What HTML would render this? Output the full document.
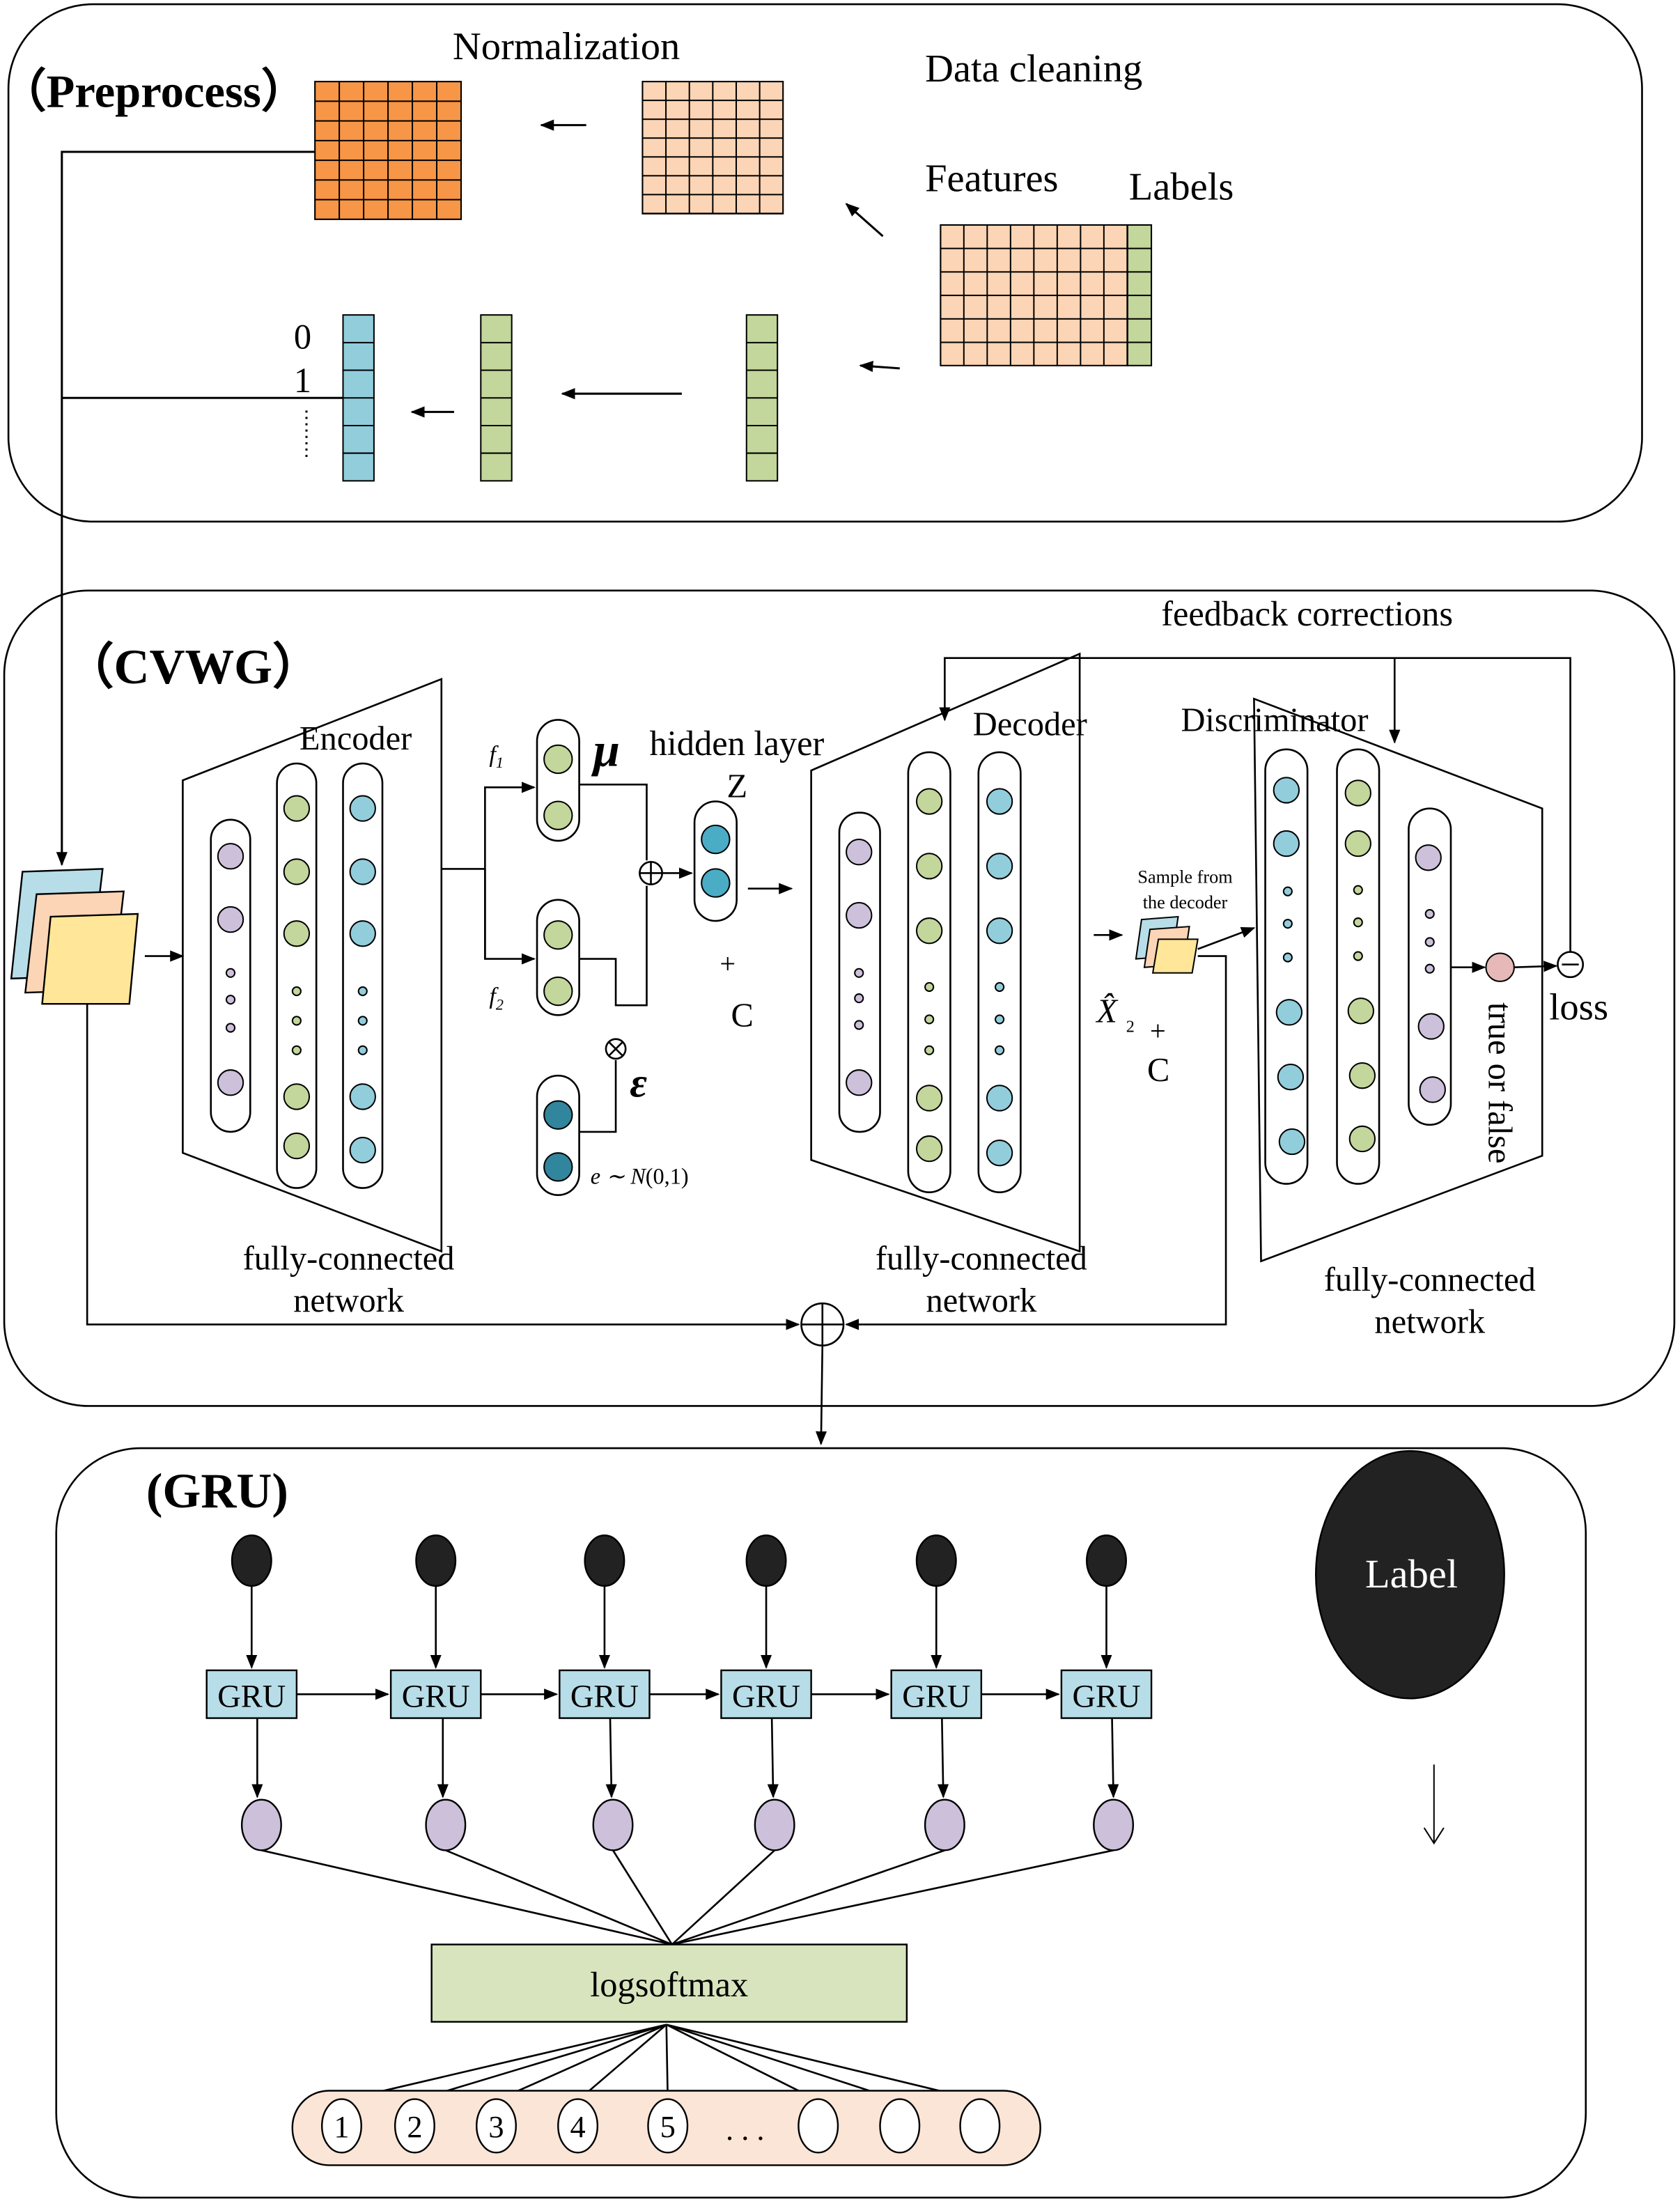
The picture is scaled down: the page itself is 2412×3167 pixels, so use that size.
<!DOCTYPE html>
<html><head><meta charset="utf-8"><style>
html,body{margin:0;padding:0;background:#fff}
svg{display:block}
text{font-family:"Liberation Serif",serif;fill:#000}
</style></head><body>
<svg width="2412" height="3167" viewBox="0 0 1195 1569" preserveAspectRatio="none" xmlns="http://www.w3.org/2000/svg">
<defs>
<marker id="a" markerWidth="10" markerHeight="10" refX="9" refY="5" orient="auto" markerUnits="userSpaceOnUse"><path d="M0,1 L10,5 L0,9 Z" fill="#000"/></marker>
<pattern id="pO" x="224" y="58" width="17.33" height="14" patternUnits="userSpaceOnUse"><rect width="17.33" height="14" fill="#f79646" stroke="#000" stroke-width="1"/></pattern>
<pattern id="pP" x="457" y="58" width="16.67" height="13.4" patternUnits="userSpaceOnUse"><rect width="16.67" height="13.4" fill="#fbd5b5" stroke="#000" stroke-width="1"/></pattern>
<pattern id="pF" x="669" y="160" width="16.6" height="16.7" patternUnits="userSpaceOnUse"><rect width="16.6" height="16.7" fill="#fbd5b5" stroke="#000" stroke-width="1"/></pattern>
<pattern id="pL" x="802" y="160" width="17" height="16.7" patternUnits="userSpaceOnUse"><rect width="17" height="16.7" fill="#c3d69b" stroke="#000" stroke-width="1"/></pattern>
</defs>
<g fill="none" stroke="#000" stroke-width="1.3">
<rect x="6" y="3" width="1162" height="368" rx="60"/>
<rect x="3" y="420" width="1188" height="580" rx="60"/>
<rect x="40" y="1030" width="1088" height="533" rx="60"/>
</g>
<!-- Preprocess -->
<rect x="224" y="58" width="104" height="98" fill="url(#pO)" stroke="#000"/>
<rect x="457" y="58" width="100" height="94" fill="url(#pP)" stroke="#000"/>
<rect x="669" y="160" width="133" height="100" fill="url(#pF)" stroke="#000"/>
<rect x="802" y="160" width="17" height="100" fill="url(#pL)" stroke="#000"/>
<g stroke="#000" stroke-width="1">
<rect x="531" y="224" width="22" height="118" fill="#c3d69b"/>
<path d="M531,243.7H553M531,263.3H553M531,283H553M531,302.7H553M531,322.3H553"/>
<rect x="342" y="224" width="22" height="118" fill="#c3d69b"/>
<path d="M342,243.7H364M342,263.3H364M342,283H364M342,302.7H364M342,322.3H364"/>
<rect x="244" y="224" width="22" height="118" fill="#92cddc"/>
<path d="M244,243.7H266M244,263.3H266M244,283H266M244,302.7H266M244,322.3H266"/>
</g>
<g stroke="#000" stroke-width="1.5" fill="none">
<line x1="417" y1="89" x2="385" y2="89" marker-end="url(#a)"/>
<line x1="628" y1="168" x2="602" y2="145" marker-end="url(#a)"/>
<line x1="640" y1="262" x2="612" y2="260" marker-end="url(#a)"/>
<line x1="485" y1="280" x2="400" y2="280" marker-end="url(#a)"/>
<line x1="323" y1="293" x2="293" y2="293" marker-end="url(#a)"/>
<polyline points="224,108 44,108 44,615" marker-end="url(#a)"/>
<line x1="244" y1="283" x2="44" y2="283"/>
<line x1="218" y1="292" x2="218" y2="326" stroke-dasharray="1.5,3"/>
</g>
<text x="322" y="42" font-size="28">Normalization</text>
<text x="0" y="76" font-size="33" font-weight="bold">（Preprocess）</text>
<text x="658" y="58" font-size="28">Data cleaning</text>
<text x="658" y="136" font-size="28">Features</text>
<text x="803" y="142" font-size="28">Labels</text>
<text x="209" y="248" font-size="25">0</text>
<text x="209" y="279" font-size="25">1</text>
<!-- CVWG -->
<text x="46" y="486" font-size="35" font-weight="bold">（CVWG）</text>
<g stroke="#000" stroke-width="1.2">
<polygon points="16,620 73,618 64,694 8,696" fill="#b7dde8"/>
<polygon points="26,636 88,634 80,704 18,706" fill="#fbd5b5"/>
<polygon points="36,652 98,650 92,714 30,714" fill="#ffe699"/>
</g>
<g stroke="#000" stroke-width="1.3" fill="none">
<line x1="103" y1="680" x2="130" y2="680" marker-end="url(#a)"/>
<polygon points="130,555 314,483 314,890 130,820"/>
<rect x="150" y="583" width="28" height="222" rx="14"/>
<rect x="197" y="543" width="28" height="302" rx="14"/>
<rect x="244" y="543" width="28" height="302" rx="14"/>
<polygon points="577,548 768,465 768,890 577,825"/>
<rect x="597" y="578" width="29" height="227" rx="14"/>
<rect x="646" y="535" width="30" height="313" rx="15"/>
<rect x="696" y="535" width="30" height="313" rx="15"/>
<polygon points="892,497 1097,575 1097,822 897,897"/>
<rect x="900" y="533" width="30" height="309" rx="15"/>
<rect x="951" y="533" width="30" height="309" rx="15"/>
<rect x="1002" y="575" width="30" height="225" rx="15"/>
<rect x="382" y="512" width="30" height="86" rx="15"/>
<rect x="382" y="640" width="30" height="82" rx="15"/>
<rect x="382" y="765" width="30" height="85" rx="15"/>
<rect x="494" y="570" width="30" height="85" rx="15"/>
<polyline points="314,618 345,618"/>
<polyline points="345,682 345,560 380,560" marker-end="url(#a)"/>
<polyline points="345,618 345,682 380,682" marker-end="url(#a)"/>
<polyline points="412,558 460,558 460,612"/>
<polyline points="412,682 438,682 438,715 460,715 460,630"/>
<polyline points="412,805 438,805 438,754"/>
<line x1="470" y1="621" x2="492" y2="621" marker-end="url(#a)"/>
<line x1="532" y1="632" x2="563" y2="632" marker-end="url(#a)"/>
<line x1="778" y1="665" x2="798" y2="665" marker-end="url(#a)"/>
<polyline points="852,675 892,660" marker-end="url(#a)"/>
<line x1="1032" y1="688" x2="1056" y2="688" marker-end="url(#a)"/>
<line x1="1077" y1="688" x2="1107" y2="687" marker-end="url(#a)"/>
<polyline points="1117,677 1117,468 672,468 672,512" marker-end="url(#a)"/>
<polyline points="992,468 992,528" marker-end="url(#a)"/>
<polyline points="62,714 62,942 568,942" marker-end="url(#a)"/>
<polyline points="852,680 872,680 872,942 602,942" marker-end="url(#a)"/>
<line x1="585" y1="957" x2="584" y2="1027" marker-end="url(#a)"/>
<circle cx="463" cy="621" r="8" fill="#fff"/><path d="M455,621H471M463,613V629"/>
<circle cx="438" cy="746" r="7" fill="#fff"/><path d="M433,741L443,751M443,741L433,751"/>
<circle cx="585" cy="942" r="15" fill="#fff"/><path d="M570,942H600M585,927V957"/>
<circle cx="1117" cy="686" r="9" fill="#fff"/><path d="M1111,686H1123"/>
</g>
<g stroke="#000" stroke-width="1">
<circle cx="1067" cy="688" r="10" fill="#e6b9b8"/>
<g fill="#ccc0da"><circle cx="164" cy="609" r="9"/><circle cx="164" cy="654" r="9"/><circle cx="164" cy="770" r="9"/><circle cx="164" cy="692" r="3"/><circle cx="164" cy="711" r="3"/><circle cx="164" cy="731" r="3"/>
<circle cx="611" cy="606" r="9"/><circle cx="611" cy="651" r="9"/><circle cx="611" cy="770" r="9"/><circle cx="611" cy="692" r="3"/><circle cx="611" cy="710" r="3"/><circle cx="611" cy="729" r="3"/>
<circle cx="1016" cy="610" r="9"/><circle cx="1018" cy="730" r="9"/><circle cx="1019" cy="775" r="9"/><circle cx="1017" cy="650" r="3"/><circle cx="1017" cy="670" r="3"/><circle cx="1017" cy="689" r="3"/></g>
<g fill="#c3d69b"><circle cx="211" cy="575" r="9"/><circle cx="211" cy="620" r="9"/><circle cx="211" cy="664" r="9"/><circle cx="211" cy="780" r="9"/><circle cx="211" cy="815" r="9"/><circle cx="211" cy="705" r="3"/><circle cx="211" cy="726" r="3"/><circle cx="211" cy="747" r="3"/>
<circle cx="661" cy="570" r="9"/><circle cx="661" cy="616" r="9"/><circle cx="661" cy="662" r="9"/><circle cx="661" cy="781" r="9"/><circle cx="661" cy="817" r="9"/><circle cx="661" cy="702" r="3"/><circle cx="661" cy="725" r="3"/><circle cx="661" cy="747" r="3"/>
<circle cx="966" cy="564" r="9"/><circle cx="966" cy="600" r="9"/><circle cx="968" cy="719" r="9"/><circle cx="969" cy="765" r="9"/><circle cx="969" cy="810" r="9"/><circle cx="966" cy="633" r="3"/><circle cx="966" cy="656" r="3"/><circle cx="966" cy="680" r="3"/>
<circle cx="397" cy="540" r="10"/><circle cx="397" cy="580" r="10"/><circle cx="397" cy="665" r="10"/><circle cx="397" cy="705" r="10"/></g>
<g fill="#92cddc"><circle cx="258" cy="575" r="9"/><circle cx="258" cy="620" r="9"/><circle cx="258" cy="664" r="9"/><circle cx="258" cy="780" r="9"/><circle cx="258" cy="818" r="9"/><circle cx="258" cy="705" r="3"/><circle cx="258" cy="726" r="3"/><circle cx="258" cy="747" r="3"/>
<circle cx="711" cy="570" r="9"/><circle cx="711" cy="616" r="9"/><circle cx="711" cy="662" r="9"/><circle cx="711" cy="781" r="9"/><circle cx="711" cy="820" r="9"/><circle cx="711" cy="702" r="3"/><circle cx="711" cy="725" r="3"/><circle cx="711" cy="747" r="3"/>
<circle cx="915" cy="562" r="9"/><circle cx="915" cy="600" r="9"/><circle cx="917" cy="720" r="9"/><circle cx="918" cy="766" r="9"/><circle cx="919" cy="812" r="9"/><circle cx="916" cy="634" r="3"/><circle cx="916" cy="657" r="3"/><circle cx="916" cy="681" r="3"/></g>
<circle cx="509" cy="597" r="10" fill="#4bacc6"/><circle cx="509" cy="628" r="10" fill="#4bacc6"/>
<circle cx="397" cy="793" r="10" fill="#31859c"/><circle cx="397" cy="830" r="10" fill="#31859c"/>
<polygon points="812,654 838,652 834,680 808,682" fill="#b7dde8"/>
<polygon points="818,661 846,659 842,686 814,688" fill="#fbd5b5"/>
<polygon points="824,668 852,668 848,692 820,692" fill="#ffe699"/>
</g>
<text x="213" y="533" font-size="24">Encoder</text>
<text x="248" y="903" font-size="24" text-anchor="middle">fully-connected</text>
<text x="248" y="933" font-size="24" text-anchor="middle">network</text>
<text x="698" y="903" font-size="24" text-anchor="middle">fully-connected</text>
<text x="698" y="933" font-size="24" text-anchor="middle">network</text>
<text x="1017" y="918" font-size="24" text-anchor="middle">fully-connected</text>
<text x="1017" y="948" font-size="24" text-anchor="middle">network</text>
<text x="692" y="523" font-size="24">Decoder</text>
<text x="840" y="520" font-size="24">Discriminator</text>
<text x="826" y="445" font-size="25">feedback corrections</text>
<text x="348" y="542" font-size="17" font-style="italic">f<tspan font-size="11" dy="4">1</tspan></text>
<text x="348" y="714" font-size="17" font-style="italic">f<tspan font-size="11" dy="4">2</tspan></text>
<text x="422" y="545" font-size="34" font-weight="bold" font-style="italic">μ</text>
<text x="448" y="780" font-size="30" font-weight="bold" font-style="italic">ε</text>
<text x="420" y="842" font-size="16" font-style="italic">e ∼ N<tspan font-style="normal">(0,1)</tspan></text>
<text x="462" y="537" font-size="25">hidden layer</text>
<text x="517" y="567" font-size="24">Z</text>
<text x="512" y="692" font-size="20">+</text>
<text x="520" y="730" font-size="24">C</text>
<text x="843" y="628" font-size="13" text-anchor="middle">Sample from</text>
<text x="843" y="646" font-size="13" text-anchor="middle">the decoder</text>
<text x="780" y="727" font-size="24" font-style="italic">X̂</text><text x="801" y="734" font-size="12">2</text>
<text x="818" y="740" font-size="20">+</text>
<text x="816" y="769" font-size="24">C</text>
<text x="1102" y="725" font-size="27">loss</text>
<text transform="translate(1059,713) rotate(90)" font-size="24">true or false</text>
<!-- GRU -->
<text x="104" y="1072" font-size="35" font-weight="bold">(GRU)</text>
<g stroke="#000" stroke-width="1.3" fill="none">
<line x1="179" y1="1128" x2="179" y2="1186" marker-end="url(#a)"/><line x1="310" y1="1128" x2="310" y2="1186" marker-end="url(#a)"/><line x1="430" y1="1128" x2="430" y2="1186" marker-end="url(#a)"/><line x1="545" y1="1128" x2="545" y2="1186" marker-end="url(#a)"/><line x1="666" y1="1128" x2="666" y2="1186" marker-end="url(#a)"/><line x1="787" y1="1128" x2="787" y2="1186" marker-end="url(#a)"/>
<line x1="211" y1="1205" x2="276" y2="1205" marker-end="url(#a)"/><line x1="342" y1="1205" x2="396" y2="1205" marker-end="url(#a)"/><line x1="462" y1="1205" x2="511" y2="1205" marker-end="url(#a)"/><line x1="577" y1="1205" x2="632" y2="1205" marker-end="url(#a)"/><line x1="698" y1="1205" x2="753" y2="1205" marker-end="url(#a)"/>
<line x1="183" y1="1222" x2="183" y2="1278" marker-end="url(#a)"/><line x1="315" y1="1222" x2="315" y2="1278" marker-end="url(#a)"/><line x1="434" y1="1222" x2="435" y2="1278" marker-end="url(#a)"/><line x1="549" y1="1222" x2="550" y2="1278" marker-end="url(#a)"/><line x1="670" y1="1222" x2="671" y2="1278" marker-end="url(#a)"/><line x1="791" y1="1222" x2="792" y2="1278" marker-end="url(#a)"/>
<path d="M186,1316L478,1383M317,1316L478,1383M436,1316L478,1383M551,1316L478,1383M672,1316L478,1383M792,1316L478,1383"/>
<path d="M474,1440L243,1494M474,1440L295,1494M474,1440L353,1494M474,1440L411,1494M474,1440L475,1494M474,1440L582,1494M474,1440L640,1494M474,1440L697,1494"/>
<line x1="1020" y1="1255" x2="1020" y2="1310" stroke-width="1"/><path d="M1013,1300L1020,1311L1027,1300" stroke-width="1"/>
</g>
<g stroke="#000" stroke-width="1.2">
<g fill="#222"><ellipse cx="179" cy="1110" rx="14" ry="18"/><ellipse cx="310" cy="1110" rx="14" ry="18"/><ellipse cx="430" cy="1110" rx="14" ry="18"/><ellipse cx="545" cy="1110" rx="14" ry="18"/><ellipse cx="666" cy="1110" rx="14" ry="18"/><ellipse cx="787" cy="1110" rx="14" ry="18"/></g>
<g fill="#b7dde8"><rect x="147" y="1188" width="64" height="34"/><rect x="278" y="1188" width="64" height="34"/><rect x="398" y="1188" width="64" height="34"/><rect x="513" y="1188" width="64" height="34"/><rect x="634" y="1188" width="64" height="34"/><rect x="755" y="1188" width="64" height="34"/></g>
<g fill="#ccc0da"><ellipse cx="186" cy="1298" rx="14" ry="18"/><ellipse cx="317" cy="1298" rx="14" ry="18"/><ellipse cx="436" cy="1298" rx="14" ry="18"/><ellipse cx="551" cy="1298" rx="14" ry="18"/><ellipse cx="672" cy="1298" rx="14" ry="18"/><ellipse cx="792" cy="1298" rx="14" ry="18"/></g>
<rect x="307" y="1383" width="338" height="55" fill="#d7e4bd"/>
<rect x="208" y="1487" width="532" height="53" rx="26" fill="#fbe5d6"/>
<g fill="#fff"><ellipse cx="243" cy="1512" rx="14" ry="19"/><ellipse cx="295" cy="1512" rx="14" ry="19"/><ellipse cx="353" cy="1512" rx="14" ry="19"/><ellipse cx="411" cy="1512" rx="14" ry="19"/><ellipse cx="475" cy="1512" rx="14" ry="19"/><ellipse cx="582" cy="1512" rx="14" ry="19"/><ellipse cx="640" cy="1512" rx="14" ry="19"/><ellipse cx="697" cy="1512" rx="14" ry="19"/></g>
<ellipse cx="1003" cy="1120" rx="67" ry="88" fill="#222"/>
</g>
<g font-size="23" text-anchor="middle" font-family="Liberation Sans Narrow, Liberation Sans, sans-serif">
<text x="179" y="1214">GRU</text><text x="310" y="1214">GRU</text><text x="430" y="1214">GRU</text><text x="545" y="1214">GRU</text><text x="666" y="1214">GRU</text><text x="787" y="1214">GRU</text>
</g>
<text x="476" y="1420" font-size="25" text-anchor="middle">logsoftmax</text>
<g font-size="22" text-anchor="middle"><text x="243" y="1520">1</text><text x="295" y="1520">2</text><text x="353" y="1520">3</text><text x="411" y="1520">4</text><text x="475" y="1520">5</text><text x="530" y="1522">. . .</text></g>
<text x="1004" y="1129" font-size="29" text-anchor="middle" style="fill:#fff">Label</text>
</svg>
</body></html>
